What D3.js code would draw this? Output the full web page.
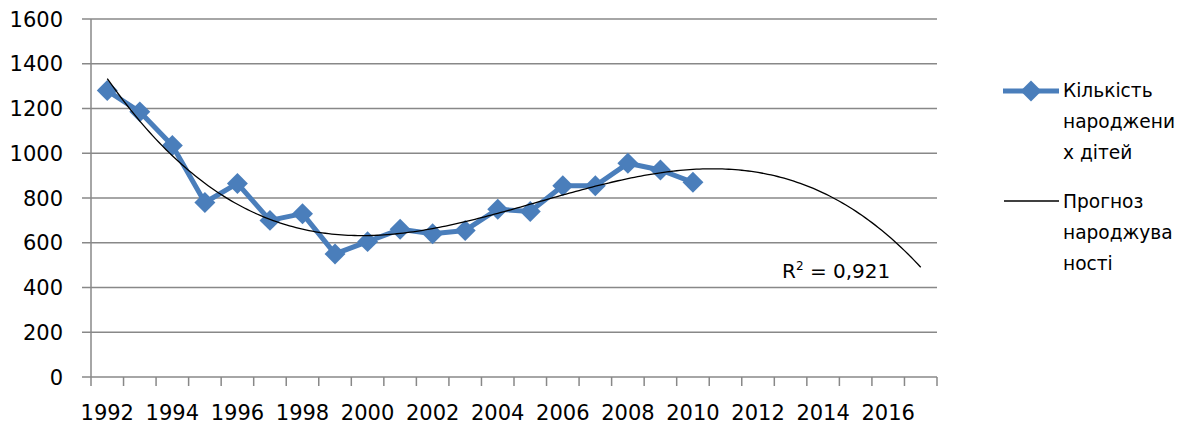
<!DOCTYPE html>
<html>
<head>
<meta charset="utf-8">
<script src="https://cdn.jsdelivr.net/npm/d3@7"></script>
<style>
  body { margin: 0; background: #fff; }
  svg text { font-family: "DejaVu Sans", Verdana, sans-serif; }
</style>
</head>
<body>
<svg id="chart" width="1198" height="434"></svg>
<script>
// Years on the category axis (the trend is drawn out to 2017)
const years = d3.range(1992, 2018);
// Observed births, 1992-2010
const birthYears = d3.range(1992, 2011);
const births = [1280, 1185, 1035, 780, 865, 700, 730, 550, 605, 660, 640, 655, 750, 740, 855, 855, 955, 925, 870];
const yTicks = [0, 200, 400, 600, 800, 1000, 1200, 1400, 1600];
const xLabels = years.filter((y) => (y - 1992) % 2 === 0);
const seriesName = ["Кількість", "народжени", "х дітей"];
const trendName = ["Прогноз", "народжува", "ності"];
const r2Label = "0,921";

const BLUE = "#4a7ebb";
const GRID = "#888888";

// Plot area
const PLOT_LEFT = 91, PLOT_RIGHT = 937, PLOT_TOP = 19, PLOT_BOTTOM = 377;

// Least-squares polynomial fit (like the Excel trendline)
const polyFit = (xs, ys, deg) => {
  const n = deg + 1;
  const A = [];
  for (let i = 0; i < n; i++) {
    A.push([]);
    for (let j = 0; j < n; j++) A[i].push(d3.sum(xs, (v) => Math.pow(v, i + j)));
    A[i].push(d3.sum(xs, (v, k) => ys[k] * Math.pow(v, i)));
  }
  // gaussian elimination
  for (let c = 0; c < n; c++) {
    let p = c;
    for (let r = c + 1; r < n; r++) if (Math.abs(A[r][c]) > Math.abs(A[p][c])) p = r;
    [A[c], A[p]] = [A[p], A[c]];
    for (let r = 0; r < n; r++) {
      if (r === c) continue;
      const f = A[r][c] / A[c][c];
      for (let k = c; k <= n; k++) A[r][k] -= f * A[c][k];
    }
  }
  return A.map((row, i) => row[n] / row[i]);
};

const svg = d3.select("#chart");

const x = d3.scaleBand().domain(years).range([PLOT_LEFT, PLOT_RIGHT]);
const y = d3.scaleLinear().domain([0, 1600]).range([PLOT_BOTTOM, PLOT_TOP]);
const cx = (yr) => x(yr) + x.bandwidth() / 2;

// horizontal gridlines + y ticks
svg.append("g")
  .selectAll("line")
  .data(yTicks)
  .join("line")
  .attr("x1", PLOT_LEFT - 9)
  .attr("x2", PLOT_RIGHT)
  .attr("y1", (d) => y(d))
  .attr("y2", (d) => y(d))
  .attr("stroke", GRID)
  .attr("stroke-width", 1.5);

svg.append("g")
  .selectAll("text")
  .data(yTicks)
  .join("text")
  .attr("x", 63)
  .attr("y", (d) => y(d))
  .attr("dy", "0.36em")
  .attr("text-anchor", "end")
  .attr("font-size", 21)
  .attr("fill", "#000")
  .text((d) => d);

// y axis line
svg.append("line")
  .attr("x1", PLOT_LEFT).attr("x2", PLOT_LEFT)
  .attr("y1", PLOT_TOP).attr("y2", PLOT_BOTTOM)
  .attr("stroke", GRID).attr("stroke-width", 1.5);

// x axis ticks at category boundaries
const boundaries = years.map((yr) => x(yr)).concat([PLOT_RIGHT]);
svg.append("g")
  .selectAll("line")
  .data(boundaries)
  .join("line")
  .attr("x1", (d) => d).attr("x2", (d) => d)
  .attr("y1", PLOT_BOTTOM).attr("y2", PLOT_BOTTOM + 9)
  .attr("stroke", GRID).attr("stroke-width", 1.5);

svg.append("g")
  .selectAll("text")
  .data(xLabels)
  .join("text")
  .attr("x", (d) => cx(d))
  .attr("y", 420)
  .attr("text-anchor", "middle")
  .attr("font-size", 21)
  .attr("fill", "#000")
  .text((d) => d);

// data series
const line = d3.line().x((d) => cx(d[0])).y((d) => y(d[1]));
const pts = birthYears.map((yr, i) => [yr, births[i]]);

svg.append("path")
  .datum(pts)
  .attr("d", line)
  .attr("fill", "none")
  .attr("stroke", BLUE)
  .attr("stroke-width", 5)
  .attr("stroke-linejoin", "round");

const diamond = d3.symbol().type(d3.symbolDiamond2).size(280);
svg.append("g")
  .selectAll("path")
  .data(pts)
  .join("path")
  .attr("transform", (d) => `translate(${cx(d[0])},${y(d[1])})`)
  .attr("d", diamond)
  .attr("fill", BLUE);

// polynomial trendline, extended to 2017
const xi = birthYears.map((yr) => yr - 1992);
const coef = polyFit(xi, births, 3);
const trendY = (t) => d3.sum(coef, (c, i) => c * Math.pow(t, i));
const trendPts = d3.range(0, 25.001, 0.1).map((t) => [t, trendY(t)]);
const trendLine = d3.line()
  .x((d) => cx(1992) + d[0] * x.step())
  .y((d) => y(d[1]));
svg.append("path")
  .datum(trendPts)
  .attr("d", trendLine)
  .attr("fill", "none")
  .attr("stroke", "#000")
  .attr("stroke-width", 1.3);

// R² label
const r2 = svg.append("text")
  .attr("x", 782)
  .attr("y", 278)
  .attr("font-size", 20)
  .attr("fill", "#000");
r2.append("tspan").text("R");
r2.append("tspan").attr("dy", -8).attr("font-size", 12).text("2");
r2.append("tspan").attr("dy", 8).text(" = " + r2Label);

// legend
const legend = svg.append("g");
legend.append("line")
  .attr("x1", 1003).attr("x2", 1059)
  .attr("y1", 91).attr("y2", 91)
  .attr("stroke", BLUE).attr("stroke-width", 5);
legend.append("path")
  .attr("transform", "translate(1031,91)")
  .attr("d", diamond)
  .attr("fill", BLUE);
legend.append("line")
  .attr("x1", 1004).attr("x2", 1059)
  .attr("y1", 201).attr("y2", 201)
  .attr("stroke", "#000").attr("stroke-width", 1.3);

const addLines = (lines, y0) => {
  legend.append("g")
    .selectAll("text")
    .data(lines)
    .join("text")
    .attr("x", 1063)
    .attr("y", (d, i) => y0 + i * 31)
    .attr("dy", "0.36em")
    .attr("font-size", 18.6)
    .attr("fill", "#000")
    .text((d) => d);
};
addLines(seriesName, 90);
addLines(trendName, 201);
</script>
</body>
</html>
